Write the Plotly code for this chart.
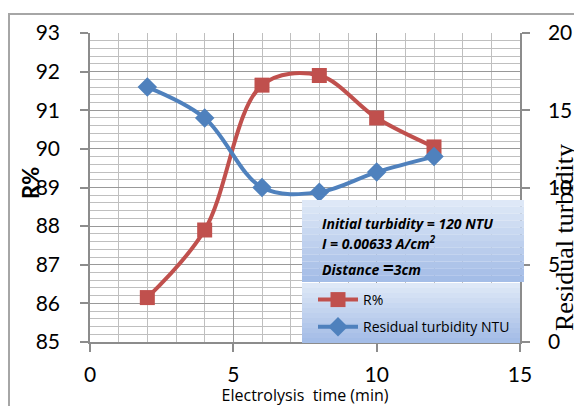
import plotly.graph_objects as go

time_min = [2, 4, 6, 8, 10, 12]
r_percent = [86.15, 87.9, 91.65, 91.9, 90.8, 90.05]
residual_turbidity = [16.5, 14.5, 10.0, 9.7, 11.0, 12.0]

x_ticks = [0, 5, 10, 15]
y_ticks = [85, 86, 87, 88, 89, 90, 91, 92, 93]
y2_ticks = [0, 5, 10, 15, 20]

RED = "#C0504D"
BLUE = "#4F81BD"
GRID = "#BFBFBF"
AX = "#8C8C8C"
TICKFONT = dict(family="Lato, Open Sans, sans-serif", size=21, color="black")

fig = go.Figure()
fig.add_trace(go.Scatter(
    x=time_min, y=r_percent, name="R%", mode="lines+markers", legendgroup="a",
    line=dict(color=RED, width=4, shape="spline", smoothing=1.0),
    marker=dict(symbol="square", size=15, color=RED),
))
fig.add_trace(go.Scatter(
    x=time_min, y=residual_turbidity, name="Residual turbidity NTU", mode="lines+markers",
    yaxis="y2", legendgroup="b",
    line=dict(color=BLUE, width=4, shape="spline", smoothing=1.0),
    marker=dict(symbol="diamond", size=15, color=BLUE),
))

# page body has an 8px margin: figure occupies viewport 8..582 / 8..406
fig.update_layout(
    width=574, height=398,
    margin=dict(l=82, r=62, t=25, b=64, autoexpand=False),
    paper_bgcolor="white", plot_bgcolor="white",
    showlegend=True,
    xaxis=dict(
        range=[0, 15], tickvals=x_ticks, showgrid=True, gridcolor="#999999", gridwidth=1,
        minor=dict(dtick=1, showgrid=True, gridcolor=GRID, gridwidth=1),
        showline=True, linecolor=AX, linewidth=1.5, ticks="outside", ticklen=8,
        tickcolor=AX, tickwidth=1.5, tickfont=TICKFONT, zeroline=False,
        ticklabelstandoff=5, automargin=False,
        title=dict(text="Electrolysis  time (min)", font=dict(family="Open Sans, sans-serif", size=16, color="black"), standoff=3),
    ),
    yaxis=dict(
        range=[85, 93], tickvals=y_ticks, showgrid=True, gridcolor="#999999", gridwidth=1,
        minor=dict(dtick=0.2, showgrid=True, gridcolor=GRID, gridwidth=1),
        showline=True, linecolor=AX, linewidth=1.5, ticks="outside", ticklen=8,
        tickcolor=AX, tickwidth=1.5, tickfont=TICKFONT, zeroline=False,
        ticklabelstandoff=16, automargin=False,
    ),
    yaxis2=dict(
        range=[0, 20], tickvals=y2_ticks, overlaying="y", side="right", showgrid=False,
        showline=True, linecolor=AX, linewidth=1.5, ticks="outside", ticklen=8,
        tickcolor=AX, tickwidth=1.5, tickfont=TICKFONT, zeroline=False,
        ticklabelstandoff=14, automargin=False,
    ),
    legend=dict(
        x=(313 - 90) / 430.0, y=(342 - 284) / 309.0, xanchor="left", yanchor="top",
        bgcolor="rgba(0,0,0,0)", borderwidth=0,
        font=dict(family="Open Sans, sans-serif", size=14, color="black"),
        itemwidth=40, tracegroupgap=6,
    ),
)

def px_x(p):
    return (p - 90) / 430.0

def px_y(p):
    return (342 - p) / 309.0

shapes = []
# outer frame
shapes.append(dict(type="rect", xref="paper", yref="paper",
                   x0=px_x(9), x1=px_x(600), y0=px_y(420), y1=px_y(14),
                   line=dict(color="#A6A6A6", width=2), fillcolor="rgba(0,0,0,0)", layer="below"))

def grad_box(x0, x1, y0, y1, n=12):
    c0 = (222, 232, 247)
    c1 = (164, 189, 231)
    for i in range(n):
        t = i / (n - 1)
        c = tuple(int(c0[k] + (c1[k] - c0[k]) * t) for k in range(3))
        ya = y0 + (y1 - y0) * i / n
        yb = y0 + (y1 - y0) * (i + 1) / n
        shapes.append(dict(type="rect", xref="paper", yref="paper",
                           x0=px_x(x0), x1=px_x(x1), y0=px_y(yb), y1=px_y(ya),
                           line=dict(width=0), fillcolor="rgb(%d,%d,%d)" % c, layer="above"))

grad_box(302, 524, 200, 282)
grad_box(302, 520, 283, 343)
fig.update_layout(shapes=shapes)

ann_font = dict(family="Open Sans, sans-serif", size=14, color="black")
for txt, ypx in [("<b><i>Initial turbidity = 120 NTU</i></b>", 223),
                 ("<b><i>I = 0.00633 A/cm<sup>2</sup></i></b>", 243),
                 ("<b><i>Distance </i></b><span style='font-size:19px'><b>=</b></span><b><i>3cm</i></b>", 268)]:
    fig.add_annotation(xref="paper", yref="paper", x=px_x(320), y=px_y(ypx),
                       xanchor="left", yanchor="middle", text=txt, showarrow=False, font=ann_font)

fig.add_annotation(xref="paper", yref="paper", x=px_x(30), y=px_y(183),
                   text="<b>R%</b>", textangle=-90, showarrow=False,
                   font=dict(family="Lato, Open Sans, sans-serif", size=22, color="black"),
                   xanchor="center", yanchor="middle")

fig.add_annotation(xref="paper", yref="paper", x=px_x(564), y=px_y(238),
                   text="Residual turbidity", textangle=-90, showarrow=False,
                   font=dict(family="Liberation Serif, serif", size=26, color="black"),
                   xanchor="center", yanchor="middle")

fig.write_html("out.html")
